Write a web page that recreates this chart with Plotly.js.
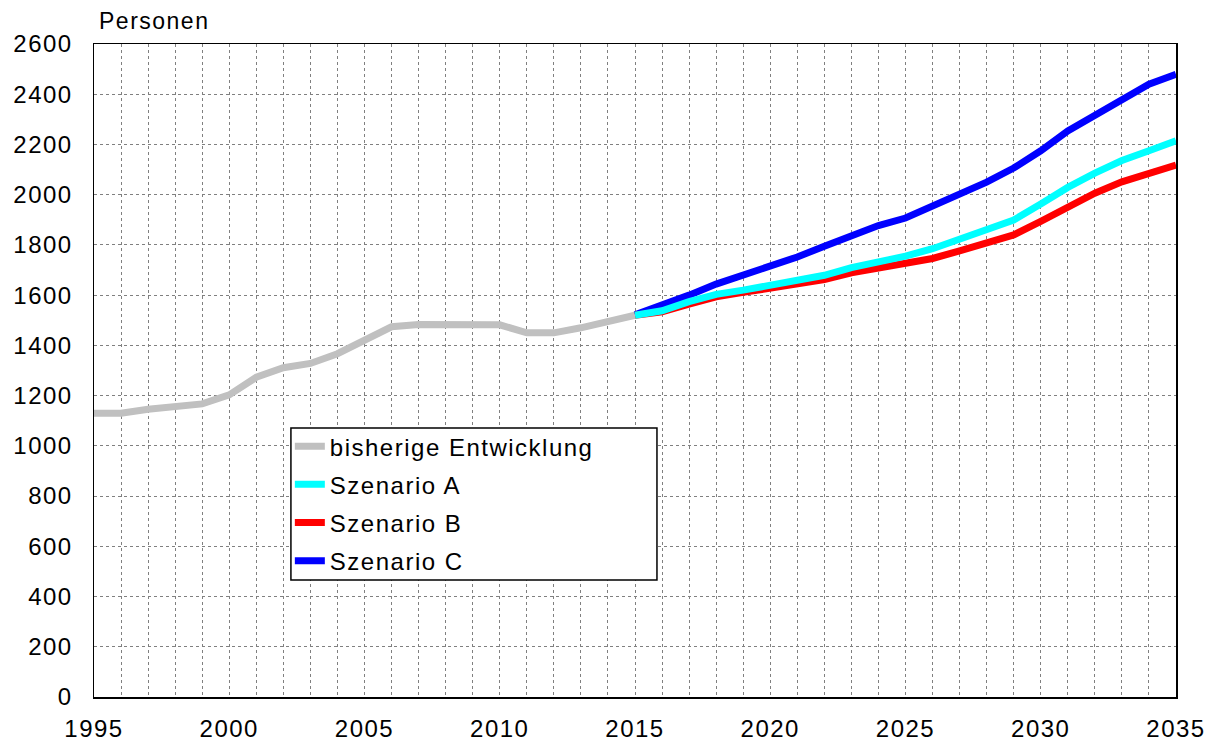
<!DOCTYPE html>
<html>
<head>
<meta charset="utf-8">
<script src="https://cdn.plot.ly/plotly-3.0.1.min.js"></script>
<style>
html,body{margin:0;padding:0;background:#fff;}
#chart{width:1218px;height:743px;}
.xtick text, .ytick text, .legendtext, .annotation-text {letter-spacing:1.5px;}
</style>
</head>
<body>
<div id="chart"></div>
<script>
const yearsHist = [1995,1996,1997,1998,1999,2000,2001,2002,2003,2004,2005,2006,2007,2008,2009,2010,2011,2012,2013,2014,2015];
const valuesHist = [1130,1130,1146,1159,1167,1203,1273,1311,1328,1367,1422,1474,1483,1483,1482,1482,1450,1450,1470,1494,1520];
const yearsProj = [2015,2016,2017,2018,2019,2020,2021,2022,2023,2024,2025,2026,2027,2028,2029,2030,2031,2032,2033,2034,2035];
const valuesA = [1520,1538,1574,1603,1620,1640,1657,1679,1710,1732,1755,1785,1825,1861,1899,1963,2029,2086,2136,2175,2215];
const valuesB = [1520,1534,1564,1593,1611,1630,1646,1662,1689,1710,1726,1746,1776,1808,1840,1894,1954,2006,2051,2082,2118];
const valuesC = [1522,1558,1600,1644,1679,1719,1752,1795,1838,1877,1907,1954,2002,2050,2106,2175,2254,2318,2384,2440,2479];
const seriesNames = ["bisherige Entwicklung","Szenario A","Szenario B","Szenario C"];
const yTicks = [0,200,400,600,800,1000,1200,1400,1600,1800,2000,2200,2400,2600];
const xTicks = [1995,2000,2005,2010,2015,2020,2025,2030,2035];

const lw = 7;
const traces = [
  {x: yearsHist, y: valuesHist, name: seriesNames[0], mode: 'lines', line: {color: '#C0C0C0', width: lw}, legendrank: 1, legendgroup: 'g0'},
  {x: yearsProj, y: valuesC, name: seriesNames[3], mode: 'lines', line: {color: '#0000FF', width: lw}, legendrank: 4, legendgroup: 'g3'},
  {x: yearsProj, y: valuesB, name: seriesNames[2], mode: 'lines', line: {color: '#FF0000', width: lw}, legendrank: 3, legendgroup: 'g2'},
  {x: yearsProj, y: valuesA, name: seriesNames[1], mode: 'lines', line: {color: '#00FFFF', width: lw}, legendrank: 2, legendgroup: 'g1'}
];

const font = {family: 'Liberation Sans, Arial, sans-serif', size: 24, color: '#000'};
const layout = {
  width: 1218, height: 743,
  margin: {l: 94, r: 42, t: 44, b: 46},
  paper_bgcolor: '#fff', plot_bgcolor: '#fff',
  font: font,
  showlegend: true,
  legend: {
    x: 0.181, y: 0.418, xanchor: 'left', yanchor: 'top',
    bgcolor: 'rgba(0,0,0,0)', borderwidth: 0,
    font: {family: font.family, size: 24, color: '#000'},
    itemwidth: 30, tracegroupgap: 4
  },
  shapes: [{
    type: 'rect', xref: 'paper', yref: 'paper',
    x0: 0.182, x1: 0.5203, y0: 0.179, y1: 0.412,
    fillcolor: '#fff', line: {color: '#000', width: 1.5}, layer: 'above'
  }],
  xaxis: {
    range: [1995, 2035], tickvals: xTicks, ticktext: xTicks.map(String),
    showgrid: true, gridcolor: '#808080', griddash: 'dot', gridwidth: 1,
    minor: {dtick: 1, tick0: 1995, showgrid: true, gridcolor: '#808080', griddash: 'dot', gridwidth: 1},
    showline: true, linecolor: '#000', linewidth: 1.5, mirror: true,
    ticks: '', zeroline: false, ticklabelstandoff: 10,
    tickfont: font
  },
  yaxis: {
    range: [0, 2600], tickvals: yTicks, ticktext: yTicks.map(String),
    showgrid: true, gridcolor: '#808080', griddash: 'dot', gridwidth: 1,
    showline: true, linecolor: '#000', linewidth: 1.5, mirror: true,
    ticks: '', zeroline: false, ticklabelstandoff: 15,
    tickfont: font
  },
  annotations: [{
    text: 'Personen', xref: 'paper', yref: 'paper', x: 0, y: 1,
    xanchor: 'left', yanchor: 'bottom', yshift: 8, xshift: 3, showarrow: false,
    font: {family: font.family, size: 23, color: '#000'}
  }]
};

Plotly.newPlot('chart', traces, layout, {displayModeBar: false, staticPlot: true});
</script>
</body>
</html>
